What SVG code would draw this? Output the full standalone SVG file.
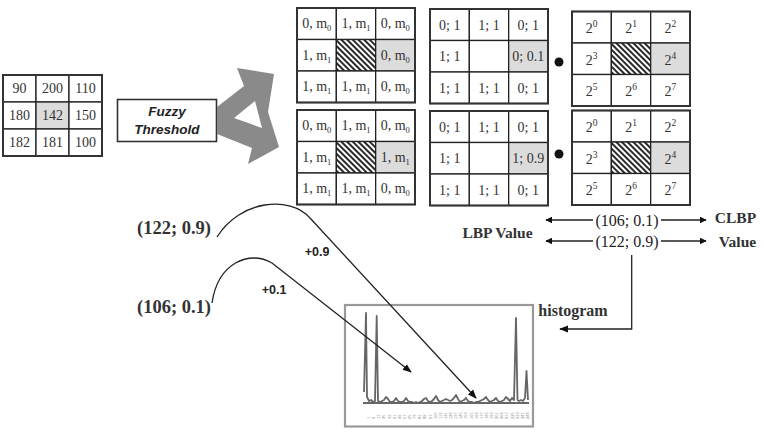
<svg xmlns="http://www.w3.org/2000/svg" width="764" height="432" viewBox="0 0 764 432">
<style>
.cell{fill:#fff;stroke:#222;stroke-width:1.3}
.gry{fill:#dcdcdc;stroke:#222;stroke-width:1.3}
.hat{fill:url(#hatch);stroke:#222;stroke-width:1.3}
.out{fill:none;stroke:#333;stroke-width:2}
.t{font-family:"Liberation Serif",serif;font-size:14px;fill:#333;text-anchor:middle}
.sm{font-size:8.5px}
.sup{font-size:9.5px}
.lbl{font-family:"Liberation Serif",serif;font-size:16px;fill:#222}
.bold{font-family:"Liberation Serif",serif;font-weight:bold;fill:#333}
.sans{font-family:"Liberation Sans",sans-serif;font-weight:bold;font-size:12.5px;fill:#222}
.ln{fill:none;stroke:#222;stroke-width:1.3}
.tick{font-family:"Liberation Sans",sans-serif;font-size:4px;fill:#888}
</style>
<defs>
<pattern id="hatch" width="4" height="4" patternUnits="userSpaceOnUse" patternTransform="rotate(-45)">
<rect width="4" height="4" fill="#fff"/>
<line x1="1" y1="0" x2="1" y2="4" stroke="#111" stroke-width="1.8"/>
</pattern>
<marker id="ah" viewBox="0 0 10 10" refX="9" refY="5" markerWidth="7" markerHeight="7" markerUnits="userSpaceOnUse" orient="auto">
<path d="M0,0 L10,5 L0,10 z" fill="#111"/>
</marker>
<marker id="ah2" viewBox="0 0 10 10" refX="9" refY="5" markerWidth="9" markerHeight="9" markerUnits="userSpaceOnUse" orient="auto">
<path d="M0,1 L10,5 L0,9 z" fill="#111"/>
</marker>
</defs>
<rect width="764" height="432" fill="#fff"/>

<!-- input grid -->
<g id="input">
<rect class="cell" x="3" y="75" width="33" height="27"/>
<rect class="cell" x="36" y="75" width="33" height="27"/>
<rect class="cell" x="69" y="75" width="33" height="27"/>
<rect class="cell" x="3" y="102" width="33" height="27"/>
<rect class="gry" x="36" y="102" width="33" height="27"/>
<rect class="cell" x="69" y="102" width="33" height="27"/>
<rect class="cell" x="3" y="129" width="33" height="27"/>
<rect class="cell" x="36" y="129" width="33" height="27"/>
<rect class="cell" x="69" y="129" width="33" height="27"/>
<rect class="out" x="3" y="75" width="99" height="81"/>
<text class="t" x="19.5" y="93" font-size="13">90</text>
<text class="t" x="52.5" y="93" font-size="13">200</text>
<text class="t" x="85.5" y="93" font-size="13">110</text>
<text class="t" x="19.5" y="120" font-size="13">180</text>
<text class="t" x="52.5" y="120" font-size="13">142</text>
<text class="t" x="85.5" y="120" font-size="13">150</text>
<text class="t" x="19.5" y="147" font-size="13">182</text>
<text class="t" x="52.5" y="147" font-size="13">181</text>
<text class="t" x="85.5" y="147" font-size="13">100</text>
</g>

<g id="fuzzy">
<rect x="117.5" y="99.5" width="99" height="42" fill="#fff" stroke="#333" stroke-width="1.6"/>
<text x="167" y="116" font-family="Liberation Sans,sans-serif" font-weight="bold" font-style="italic" font-size="13.5" fill="#222" text-anchor="middle">Fuzzy</text>
<text x="167" y="134" font-family="Liberation Sans,sans-serif" font-weight="bold" font-style="italic" font-size="13.5" fill="#222" text-anchor="middle">Threshold</text>
</g>

<g id="split">
<path fill="#8a8a8a" fill-rule="evenodd" d="M217,107 L244,86 L237,68 L274,74 L268,112 L279,147 L248,164 L252,148 L217,134 Z M234,118 L255,101 L262,128 Z"/>
</g>

<!-- fuzzy grid 1 -->
<g id="fz1" transform="translate(297,8)">
<rect class="cell" x="0" y="0" width="39.33" height="31.5"/>
<rect class="cell" x="39.33" y="0" width="39.33" height="31.5"/>
<rect class="cell" x="78.67" y="0" width="39.33" height="31.5"/>
<rect class="cell" x="0" y="31.5" width="39.33" height="31.5"/>
<rect class="hat" x="39.33" y="31.5" width="39.33" height="31.5"/>
<rect class="gry" x="78.67" y="31.5" width="39.33" height="31.5"/>
<rect class="cell" x="0" y="63" width="39.33" height="31.5"/>
<rect class="cell" x="39.33" y="63" width="39.33" height="31.5"/>
<rect class="cell" x="78.67" y="63" width="39.33" height="31.5"/>
<rect class="out" width="118" height="94.5"/>
<text class="t" x="19.7" y="20">0, m<tspan class="sm" dy="3">0</tspan></text>
<text class="t" x="59" y="20">1, m<tspan class="sm" dy="3">1</tspan></text>
<text class="t" x="98.3" y="20">0, m<tspan class="sm" dy="3">0</tspan></text>
<text class="t" x="19.7" y="51.5">1, m<tspan class="sm" dy="3">1</tspan></text>
<text class="t" x="98.3" y="51.5">0, m<tspan class="sm" dy="3">0</tspan></text>
<text class="t" x="19.7" y="83">1, m<tspan class="sm" dy="3">1</tspan></text>
<text class="t" x="59" y="83">1, m<tspan class="sm" dy="3">1</tspan></text>
<text class="t" x="98.3" y="83">0, m<tspan class="sm" dy="3">0</tspan></text>
</g>

<!-- fuzzy grid 2 -->
<g id="fz2" transform="translate(297,110)">
<rect class="cell" x="0" y="0" width="39.33" height="31.5"/>
<rect class="cell" x="39.33" y="0" width="39.33" height="31.5"/>
<rect class="cell" x="78.67" y="0" width="39.33" height="31.5"/>
<rect class="cell" x="0" y="31.5" width="39.33" height="31.5"/>
<rect class="hat" x="39.33" y="31.5" width="39.33" height="31.5"/>
<rect class="gry" x="78.67" y="31.5" width="39.33" height="31.5"/>
<rect class="cell" x="0" y="63" width="39.33" height="31.5"/>
<rect class="cell" x="39.33" y="63" width="39.33" height="31.5"/>
<rect class="cell" x="78.67" y="63" width="39.33" height="31.5"/>
<rect class="out" width="118" height="94.5"/>
<text class="t" x="19.7" y="20">0, m<tspan class="sm" dy="3">0</tspan></text>
<text class="t" x="59" y="20">1, m<tspan class="sm" dy="3">1</tspan></text>
<text class="t" x="98.3" y="20">0, m<tspan class="sm" dy="3">0</tspan></text>
<text class="t" x="19.7" y="51.5">1, m<tspan class="sm" dy="3">1</tspan></text>
<text class="t" x="98.3" y="51.5">1, m<tspan class="sm" dy="3">1</tspan></text>
<text class="t" x="19.7" y="83">1, m<tspan class="sm" dy="3">1</tspan></text>
<text class="t" x="59" y="83">1, m<tspan class="sm" dy="3">1</tspan></text>
<text class="t" x="98.3" y="83">0, m<tspan class="sm" dy="3">0</tspan></text>
</g>

<!-- middle grid 1 -->
<g id="mid1" transform="translate(430,9)">
<rect class="cell" x="0" y="0" width="39.33" height="31.5"/>
<rect class="cell" x="39.33" y="0" width="39.33" height="31.5"/>
<rect class="cell" x="78.67" y="0" width="39.33" height="31.5"/>
<rect class="cell" x="0" y="31.5" width="39.33" height="31.5"/>
<rect class="cell" x="39.33" y="31.5" width="39.33" height="31.5"/>
<rect class="gry" x="78.67" y="31.5" width="39.33" height="31.5"/>
<rect class="cell" x="0" y="63" width="39.33" height="31.5"/>
<rect class="cell" x="39.33" y="63" width="39.33" height="31.5"/>
<rect class="cell" x="78.67" y="63" width="39.33" height="31.5"/>
<rect class="out" width="118" height="94.5"/>
<text class="t" x="19.7" y="20.5">0; 1</text>
<text class="t" x="59" y="20.5">1; 1</text>
<text class="t" x="98.3" y="20.5">0; 1</text>
<text class="t" x="19.7" y="52">1; 1</text>
<text class="t" x="98.3" y="52">0; 0.1</text>
<text class="t" x="19.7" y="83.5">1; 1</text>
<text class="t" x="59" y="83.5">1; 1</text>
<text class="t" x="98.3" y="83.5">0; 1</text>
</g>

<!-- middle grid 2 -->
<g id="mid2" transform="translate(430,111)">
<rect class="cell" x="0" y="0" width="39.33" height="31.5"/>
<rect class="cell" x="39.33" y="0" width="39.33" height="31.5"/>
<rect class="cell" x="78.67" y="0" width="39.33" height="31.5"/>
<rect class="cell" x="0" y="31.5" width="39.33" height="31.5"/>
<rect class="cell" x="39.33" y="31.5" width="39.33" height="31.5"/>
<rect class="gry" x="78.67" y="31.5" width="39.33" height="31.5"/>
<rect class="cell" x="0" y="63" width="39.33" height="31.5"/>
<rect class="cell" x="39.33" y="63" width="39.33" height="31.5"/>
<rect class="cell" x="78.67" y="63" width="39.33" height="31.5"/>
<rect class="out" width="118" height="94.5"/>
<text class="t" x="19.7" y="20.5">0; 1</text>
<text class="t" x="59" y="20.5">1; 1</text>
<text class="t" x="98.3" y="20.5">0; 1</text>
<text class="t" x="19.7" y="52">1; 1</text>
<text class="t" x="98.3" y="52">1; 0.9</text>
<text class="t" x="19.7" y="83.5">1; 1</text>
<text class="t" x="59" y="83.5">1; 1</text>
<text class="t" x="98.3" y="83.5">0; 1</text>
</g>

<g id="dot1"><circle cx="559" cy="62" r="4.5" fill="#111"/></g>
<g id="dot2"><circle cx="559" cy="154" r="4.5" fill="#111"/></g>

<!-- weight grid 1 -->
<g id="w1" transform="translate(572,11.5)">
<rect class="cell" x="0" y="0" width="39.33" height="31.5"/>
<rect class="cell" x="39.33" y="0" width="39.33" height="31.5"/>
<rect class="cell" x="78.67" y="0" width="39.33" height="31.5"/>
<rect class="cell" x="0" y="31.5" width="39.33" height="31.5"/>
<rect class="hat" x="39.33" y="31.5" width="39.33" height="31.5"/>
<rect class="gry" x="78.67" y="31.5" width="39.33" height="31.5"/>
<rect class="cell" x="0" y="63" width="39.33" height="31.5"/>
<rect class="cell" x="39.33" y="63" width="39.33" height="31.5"/>
<rect class="cell" x="78.67" y="63" width="39.33" height="31.5"/>
<rect class="out" width="118" height="94.5"/>
<text class="t" x="19.7" y="21.5">2<tspan class="sup" dy="-6">0</tspan></text>
<text class="t" x="59" y="21.5">2<tspan class="sup" dy="-6">1</tspan></text>
<text class="t" x="98.3" y="21.5">2<tspan class="sup" dy="-6">2</tspan></text>
<text class="t" x="19.7" y="53">2<tspan class="sup" dy="-6">3</tspan></text>
<text class="t" x="98.3" y="53">2<tspan class="sup" dy="-6">4</tspan></text>
<text class="t" x="19.7" y="84.5">2<tspan class="sup" dy="-6">5</tspan></text>
<text class="t" x="59" y="84.5">2<tspan class="sup" dy="-6">6</tspan></text>
<text class="t" x="98.3" y="84.5">2<tspan class="sup" dy="-6">7</tspan></text>
</g>

<!-- weight grid 2 -->
<g id="w2" transform="translate(572,110.5)">
<rect class="cell" x="0" y="0" width="39.33" height="31.5"/>
<rect class="cell" x="39.33" y="0" width="39.33" height="31.5"/>
<rect class="cell" x="78.67" y="0" width="39.33" height="31.5"/>
<rect class="cell" x="0" y="31.5" width="39.33" height="31.5"/>
<rect class="hat" x="39.33" y="31.5" width="39.33" height="31.5"/>
<rect class="gry" x="78.67" y="31.5" width="39.33" height="31.5"/>
<rect class="cell" x="0" y="63" width="39.33" height="31.5"/>
<rect class="cell" x="39.33" y="63" width="39.33" height="31.5"/>
<rect class="cell" x="78.67" y="63" width="39.33" height="31.5"/>
<rect class="out" width="118" height="94.5"/>
<text class="t" x="19.7" y="21.5">2<tspan class="sup" dy="-6">0</tspan></text>
<text class="t" x="59" y="21.5">2<tspan class="sup" dy="-6">1</tspan></text>
<text class="t" x="98.3" y="21.5">2<tspan class="sup" dy="-6">2</tspan></text>
<text class="t" x="19.7" y="53">2<tspan class="sup" dy="-6">3</tspan></text>
<text class="t" x="98.3" y="53">2<tspan class="sup" dy="-6">4</tspan></text>
<text class="t" x="19.7" y="84.5">2<tspan class="sup" dy="-6">5</tspan></text>
<text class="t" x="59" y="84.5">2<tspan class="sup" dy="-6">6</tspan></text>
<text class="t" x="98.3" y="84.5">2<tspan class="sup" dy="-6">7</tspan></text>
</g>

<!-- values -->
<g id="val1"><text class="lbl" x="627" y="226" text-anchor="middle">(106; 0.1)</text></g>
<g id="val2"><text class="lbl" x="627" y="247" text-anchor="middle">(122; 0.9)</text></g>
<g id="clbp"><text class="bold" x="735.5" y="223" font-size="15.5" text-anchor="middle">CLBP</text>
<text class="bold" x="737.5" y="247" font-size="15.5" text-anchor="middle">Value</text></g>
<g id="lbp"><text class="bold" x="497.5" y="238" font-size="15.5" text-anchor="middle">LBP Value</text></g>
<g id="lv1"><text class="bold" x="174" y="234" font-size="18.5" text-anchor="middle">(122; 0.9)</text></g>
<g id="lv2"><text class="bold" x="174" y="313" font-size="18.5" text-anchor="middle">(106; 0.1)</text></g>
<g id="histlabel"><text class="bold" x="573" y="316" font-size="16" text-anchor="middle">histogram</text></g>

<!-- histogram -->
<g id="histogram">
<rect x="345" y="305" width="188" height="121.5" fill="#fff" stroke="#999" stroke-width="2.2"/>
<polyline fill="none" stroke="#666" stroke-width="1.8" stroke-linejoin="round" points="364,392 366,313 367,397 369,401 371,400 373,402 375,401 376.7,316 378,401 380,402 382,401 384,400 386,397 388,399 390,402 392,402 394,401 396,398 398,401 400,402 402,402 404,401 406,398 408,401 410,402 412,402 414,403 416,402 418,403 420,402 422,401 424,399 426,398 428,401 430,402 432,401 434,399 436,396 438,400 440,402 442,401 444,400 446,399 448,400 450,401 452,400 454,398 456,395 458,399 460,402 462,401 464,400 466,398 468,401 470,402 472,402 474,403 476,402 478,402 480,401 482,400 484,399 486,397 488,400 490,402 492,401 494,400 496,398 498,401 500,402 502,401 504,400 506,397 508,399 510,401 512,398 514,400 516,318 517.5,400 519,401 521,400 523,401 525,398 526.5,371 528,400"/>
<line x1="363" y1="403" x2="529" y2="403" stroke="#666" stroke-width="2"/>
<g class="tick">
<text transform="translate(370,419) rotate(-90)">1</text>
<text transform="translate(375.1,419) rotate(-90)">9</text>
<text transform="translate(380.3,419) rotate(-90)">17</text>
<text transform="translate(385.4,419) rotate(-90)">25</text>
<text transform="translate(390.5,419) rotate(-90)">33</text>
<text transform="translate(395.6,419) rotate(-90)">41</text>
<text transform="translate(400.8,419) rotate(-90)">49</text>
<text transform="translate(405.9,419) rotate(-90)">57</text>
<text transform="translate(411,419) rotate(-90)">65</text>
<text transform="translate(416.2,419) rotate(-90)">73</text>
<text transform="translate(421.3,419) rotate(-90)">81</text>
<text transform="translate(426.4,419) rotate(-90)">89</text>
<text transform="translate(431.5,419) rotate(-90)">97</text>
<text transform="translate(436.7,419) rotate(-90)">105</text>
<text transform="translate(441.8,419) rotate(-90)">113</text>
<text transform="translate(446.9,419) rotate(-90)">121</text>
<text transform="translate(452,419) rotate(-90)">129</text>
<text transform="translate(457.2,419) rotate(-90)">137</text>
<text transform="translate(462.3,419) rotate(-90)">145</text>
<text transform="translate(467.4,419) rotate(-90)">153</text>
<text transform="translate(472.6,419) rotate(-90)">161</text>
<text transform="translate(477.7,419) rotate(-90)">169</text>
<text transform="translate(482.8,419) rotate(-90)">177</text>
<text transform="translate(487.9,419) rotate(-90)">185</text>
<text transform="translate(493.1,419) rotate(-90)">193</text>
<text transform="translate(498.2,419) rotate(-90)">201</text>
<text transform="translate(503.3,419) rotate(-90)">209</text>
<text transform="translate(508.4,419) rotate(-90)">217</text>
<text transform="translate(513.6,419) rotate(-90)">225</text>
<text transform="translate(518.7,419) rotate(-90)">233</text>
<text transform="translate(523.8,419) rotate(-90)">241</text>
<text transform="translate(529,419) rotate(-90)">249</text>
</g>
</g>

<!-- connectors -->
<g id="connectors">
<line class="ln" x1="593" y1="220" x2="546" y2="220" marker-end="url(#ah)"/>
<line class="ln" x1="661" y1="220" x2="706" y2="220" marker-end="url(#ah)"/>
<line class="ln" x1="593" y1="241" x2="546" y2="241" marker-end="url(#ah)"/>
<line class="ln" x1="661" y1="241" x2="706" y2="241" marker-end="url(#ah)"/>
<polyline class="ln" points="631.7,255 631.7,329 560,329" marker-end="url(#ah2)"/>
<path class="ln" d="M217,237 C240,200 290,195 310,218 L476,398" marker-end="url(#ah2)"/>
<path class="ln" d="M212,303 C218,262 250,250 272,263 L411,372" marker-end="url(#ah2)"/>
<text class="sans" x="317" y="256" text-anchor="middle">+0.9</text>
<text class="sans" x="274" y="294" text-anchor="middle">+0.1</text>
</g>
</svg>
